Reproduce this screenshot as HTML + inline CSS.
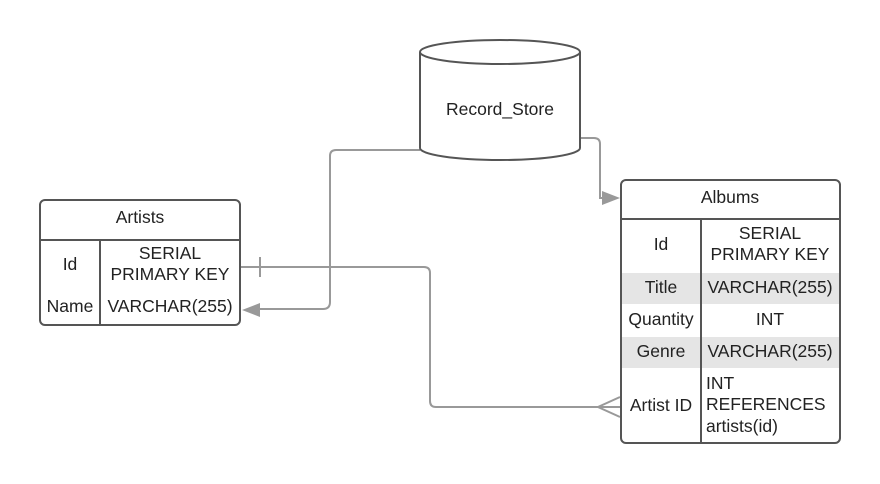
<!DOCTYPE html>
<html><head><style>body{margin:0;background:#fff}svg{display:block}text{font-family:"Liberation Sans",sans-serif;font-size:17.5px;fill:#222}</style></head><body>
<svg width="880" height="484" viewBox="0 0 880 484">
<g fill="none" stroke="#999" stroke-width="2">
<path d="M420 150 H336 Q330 150 330 156 V302 Q330 309 323 309 H258"/>
<path d="M580 138 H594 Q600 138 600 144 V198 H606"/>
<path d="M240 267 H424 Q430 267 430 273 V401 Q430 407 436 407 H620"/>
<path d="M260 257 V277"/>
<path d="M620 397 L598 407 L620 417"/>
</g>
<polygon points="242,310 260,303 260,317" fill="#999"/>
<polygon points="620,198 602,191 602,205" fill="#999"/>
<path d="M420 52 V148 A80 12 0 0 0 580 148 V52" fill="#fff" stroke="#555" stroke-width="2"/>
<ellipse cx="500" cy="52" rx="80" ry="12" fill="#fff" stroke="#555" stroke-width="2"/>
<text x="500" y="115" text-anchor="middle">Record_Store</text>
<rect x="40" y="200" width="200" height="125" rx="5" fill="#fff" stroke="#555" stroke-width="2"/>
<path d="M40 240 H240 M100 240 V325" stroke="#555" stroke-width="2"/>
<text x="140" y="223" text-anchor="middle">Artists</text>
<text x="70" y="270" text-anchor="middle">Id</text>
<text x="170" y="259" text-anchor="middle">SERIAL</text>
<text x="170" y="280" text-anchor="middle">PRIMARY KEY</text>
<text x="70" y="312" text-anchor="middle">Name</text>
<text x="170" y="312" text-anchor="middle">VARCHAR(255)</text>
<rect x="621" y="180" width="219" height="263" rx="5" fill="#fff" stroke="#555" stroke-width="2"/>
<rect x="622" y="273" width="217" height="31" fill="#e5e5e5"/>
<rect x="622" y="337" width="217" height="31" fill="#e5e5e5"/>
<path d="M621 219 H840 M701 219 V443" stroke="#555" stroke-width="2"/>
<text x="730" y="203" text-anchor="middle">Albums</text>
<text x="661" y="250" text-anchor="middle">Id</text>
<text x="770" y="239" text-anchor="middle">SERIAL</text>
<text x="770" y="260" text-anchor="middle">PRIMARY KEY</text>
<text x="661" y="293" text-anchor="middle">Title</text>
<text x="770" y="293" text-anchor="middle">VARCHAR(255)</text>
<text x="661" y="325" text-anchor="middle">Quantity</text>
<text x="770" y="325" text-anchor="middle">INT</text>
<text x="661" y="357" text-anchor="middle">Genre</text>
<text x="770" y="357" text-anchor="middle">VARCHAR(255)</text>
<text x="661" y="411" text-anchor="middle">Artist ID</text>
<text x="706" y="389">INT</text>
<text x="706" y="410">REFERENCES</text>
<text x="706" y="432">artists(id)</text>
</svg>
</body></html>
